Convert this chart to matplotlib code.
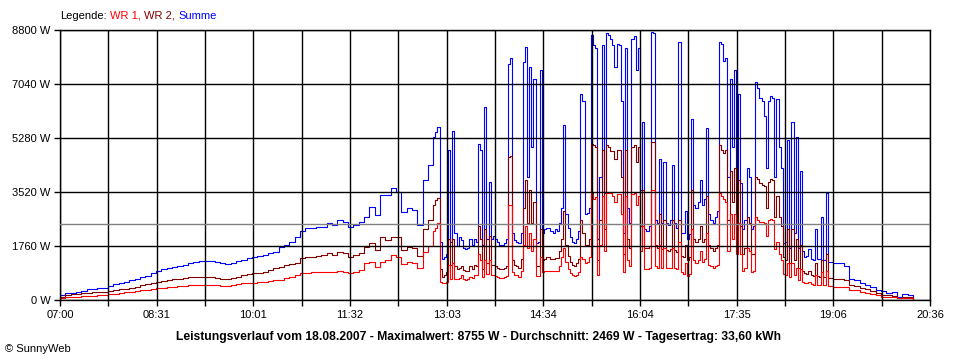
import numpy as np
import matplotlib
matplotlib.use('Agg')
import matplotlib.pyplot as plt

plt.rcParams['font.family'] = ['Liberation Sans', 'DejaVu Sans']
plt.rcParams['font.size'] = 8

# %% data (W), time in minutes after 07:00

# morning, every 5 min from 07:00 to 12:50
t_morning = np.arange(0, 351, 5)
summe_morning = [163, 217, 239, 272, 293, 348, 370, 380, 391, 456,
                 521, 565, 597, 652, 695, 739, 793, 869, 934, 1000,
                 1054, 1086, 1119, 1152, 1195, 1228, 1260, 1282, 1271, 1228,
                 1195, 1184, 1217, 1260, 1304, 1358, 1412, 1430, 1466, 1521,
                 1575, 1738, 1792, 1900, 2064, 2260, 2336, 2336, 2390, 2390,
                 2498, 2444, 2607, 2553, 2390, 2444, 2553, 2716, 3040, 2770,
                 3422, 3422, 3640, 3530, 2878, 2988, 2933, 2450, 3900, 4400,
                 5300]
wr2_morning = [108, 163, 185, 206, 217, 239, 250, 260, 272, 304,
               326, 348, 370, 391, 424, 478, 510, 554, 597, 630,
               652, 674, 695, 717, 739, 750, 760, 760, 739, 706,
               695, 695, 728, 760, 815, 836, 869, 890, 923, 978,
               1032, 1086, 1140, 1173, 1195, 1358, 1412, 1412, 1440, 1466,
               1521, 1466, 1575, 1521, 1412, 1466, 1521, 1738, 1847, 1630,
               2064, 1955, 2064, 2064, 1630, 1738, 1694, 1420, 2300, 2600,
               3100]
wr1_morning = [54, 87, 108, 108, 120, 130, 141, 152, 163, 185,
               206, 228, 250, 272, 293, 315, 337, 358, 380, 402,
               424, 435, 456, 467, 478, 489, 500, 500, 489, 478,
               467, 467, 478, 510, 543, 543, 570, 580, 600, 620,
               652, 652, 706, 760, 815, 869, 887, 900, 910, 923,
               923, 923, 935, 910, 890, 923, 978, 1195, 1250, 1086,
               1250, 1304, 1466, 1412, 1160, 1250, 1200, 1030, 1550, 1750,
               2250]

# afternoon clouds, every 2 min from 12:52 to 19:00
t_noon = np.arange(352, 721, 2)
summe_noon = [5490, 5650, 1900, 1350, 1400, 1500, 4900, 1900, 5500, 2200,
              1750, 2050, 1950, 1700, 1650, 1700, 2000, 1800, 2000, 1900,
              5100, 4900, 1800, 6300, 2000, 3850, 2000, 2100, 2000, 1900,
              1800, 1800, 1850, 2000, 7700, 7900, 2200, 1950, 1900, 1850,
              2200, 7750, 8250, 4000, 7600, 5000, 7200, 1850, 1900, 7500,
              2200, 2300, 2350, 2350, 2250, 2200, 2300, 2250, 2500, 3000,
              5700, 2800, 2350, 2050, 1900, 1850, 2000, 2250, 6700, 6500,
              2800, 2850, 3000, 8650, 8300, 8200, 2000, 4000, 8300, 3500,
              8700, 8650, 8500, 8300, 7600, 8350, 8300, 6500, 2200, 8200,
              3000, 2500, 8500, 8600, 7500, 8200, 3600, 5800, 2300, 2250,
              2400, 8750, 8700, 2600, 2500, 4600, 2500, 4500, 2500, 2450,
              2600, 4400, 2500, 2350, 8400, 2200, 2200, 2900, 2000, 2150,
              5900, 3100, 3000, 3200, 3900, 3100, 3300, 5600, 2800, 2600,
              2500, 2700, 2900, 8400, 8350, 7800, 7900, 4000, 7200, 5000,
              7500, 3500, 6700, 3800, 2300, 2600, 4300, 4000, 2300, 2400,
              7100, 6900, 6600, 6500, 6000, 4300, 6500, 6650, 6600, 4000,
              6550, 5000, 4300, 1850, 1900, 5200, 1700, 5800, 2200, 5300,
              1700, 4200, 1600, 1400, 1450, 1650, 1350, 1300, 2300, 1350,
              1350, 2700, 1300, 3500, 1250]
wr2_noon = [3250, 3330, 1000, 760, 820, 900, 2000, 1150, 2000, 1100,
            1000, 1050, 1100, 980, 930, 950, 1100, 1000, 1150, 1100,
            2400, 2000, 1000, 2300, 1200, 2100, 1150, 1150, 1100, 1050,
            1000, 1000, 1050, 1100, 4650, 4700, 1300, 1150, 1100, 1050,
            1350, 3000, 3900, 2500, 3600, 2500, 3200, 1100, 1100, 2300,
            1300, 1350, 1400, 1400, 1350, 1350, 1380, 1360, 1600, 2000,
            2900, 1800, 1450, 1250, 1150, 1100, 1200, 1350, 2600, 2200,
            1800, 1800, 2000, 5100, 5050, 5000, 1300, 2600, 4900, 2300,
            5050, 5000, 4850, 4850, 4600, 4900, 4900, 4000, 1500, 4900,
            2000, 1700, 5000, 5050, 4500, 5000, 2400, 3600, 1700, 1700,
            1750, 5150, 5150, 1800, 1700, 2800, 1650, 2600, 1620, 1600,
            1650, 2600, 1620, 1580, 2600, 1450, 1400, 1800, 1300, 1400,
            3600, 2000, 1900, 2000, 2400, 1900, 2000, 3400, 1800, 1700,
            1600, 1700, 1800, 5050, 4900, 4800, 4900, 2600, 4200, 3200,
            4300, 2300, 3900, 2400, 1500, 1700, 2700, 2500, 1500, 1500,
            4000, 3950, 3800, 3750, 3700, 3000, 3850, 3950, 3900, 2700,
            3400, 2700, 2400, 1400, 1300, 2300, 1200, 2300, 1300, 2000,
            1050, 1800, 950, 880, 850, 950, 820, 780, 1200, 780,
            760, 1300, 750, 1500, 720]
wr1_noon = [2350, 2500, 600, 540, 560, 600, 1150, 700, 1200, 700,
            700, 720, 800, 700, 650, 680, 760, 720, 800, 800,
            1500, 1300, 750, 1300, 850, 1300, 800, 820, 780, 760,
            720, 720, 740, 780, 3100, 3100, 900, 820, 800, 760,
            950, 1800, 2400, 1700, 2200, 1600, 2000, 780, 780, 1400,
            900, 950, 950, 950, 930, 930, 950, 940, 1100, 1400,
            1700, 1250, 1000, 880, 820, 780, 820, 920, 1400, 1350,
            1200, 1250, 1400, 3500, 3300, 3350, 800, 1800, 3400, 1600,
            3500, 3480, 3480, 3400, 3200, 3450, 3450, 2800, 900, 3400,
            1300, 1100, 3450, 3500, 3100, 3400, 1600, 2400, 1000, 1000,
            1050, 3600, 3600, 1100, 1050, 1800, 1030, 1700, 1030, 1030,
            1050, 1700, 1030, 1000, 1900, 900, 850, 1200, 780, 850,
            2300, 1300, 1200, 1300, 1600, 1250, 1350, 2200, 1150, 1100,
            1050, 1100, 1150, 3500, 3400, 3300, 3200, 1600, 2800, 2000,
            2800, 1500, 2500, 1500, 950, 1050, 1700, 1600, 900, 950,
            2700, 2600, 2550, 2550, 2500, 2100, 2600, 2650, 2600, 1650,
            1900, 1500, 1300, 850, 800, 1200, 750, 1200, 800, 1050,
            650, 1000, 600, 560, 560, 600, 520, 500, 800, 490,
            480, 900, 480, 950, 450]

# evening, every 5 min from 19:05 to 20:20
t_evening = np.arange(725, 801, 5)
summe_evening = [1220, 1200, 1100, 700, 650, 560, 500, 420, 330, 280,
                 220, 250, 110, 200, 150, 20]
wr2_evening = [700, 700, 660, 500, 470, 400, 360, 300, 230, 170,
               150, 140, 80, 110, 90, 10]
wr1_evening = [430, 430, 410, 330, 320, 260, 220, 180, 150, 110,
               90, 100, 60, 70, 50, 10]

durchschnitt = 2469

y_ticks = [0, 1760, 3520, 5280, 7040, 8800]
x_labels = ['07:00', '08:31', '10:01', '11:32', '13:03',
            '14:34', '16:04', '17:35', '19:06', '20:36']

titel = ('Leistungsverlauf vom 18.08.2007 - Maximalwert: 8755 W - '
         'Durchschnitt: 2469 W - Tagesertrag: 33,60 kWh')

# %% plot

t = np.concatenate([t_morning, t_noon, t_evening])
summe = np.concatenate([summe_morning, summe_noon, summe_evening])
wr2 = np.concatenate([wr2_morning, wr2_noon, wr2_evening])
wr1 = np.concatenate([wr1_morning, wr1_noon, wr1_evening])

fig = plt.figure(figsize=(9.6, 3.6), dpi=100, facecolor='white')
ax = fig.add_axes([60/960, 60/360, 870/960, 270/360])

ax.plot(t, summe, color='#0000ff', lw=0.8, drawstyle='steps-post', zorder=2.0)
ax.plot(t, wr2, color='#800000', lw=0.8, drawstyle='steps-post', zorder=2.1)
ax.plot(t, wr1, color='#ff0000', lw=0.8, drawstyle='steps-post', zorder=2.2)
ax.axhline(durchschnitt, color='#808080', lw=1.0, zorder=2.6)

ax.set_xlim(0, 816)
ax.set_ylim(0, 8800)
xt = np.linspace(0, 816, 19)
xl = []
for i in range(19):
    xl.append(x_labels[i//2] if i % 2 == 0 else '')
ax.set_xticks(xt, xl)
ax.set_yticks(y_ticks, ['%d W' % v for v in y_ticks])

ax.set_axisbelow(False)
ax.grid(True, color='black', lw=1)
for s in ax.spines.values():
    s.set_color('black')
    s.set_linewidth(1)
ax.tick_params(axis='x', direction='out', length=4, width=1, pad=3)
ax.tick_params(axis='y', direction='out', length=4, width=1, pad=3)

# legend text on top
fig.canvas.draw()
renderer = fig.canvas.get_renderer()
x = 60/960
y = 1 - 16/360
for txt, col in [('Legende:', 'black'), ('WR 1,', '#ff0000'),
                 ('WR 2,', '#800000'), ('Summe', '#0000ff')]:
    tx = fig.text(x, y, txt, color=col, va='center', ha='left')
    bb = tx.get_window_extent(renderer)
    x = (bb.x1 + 3.5) / 960

fig.text(479/960, 1 - 337/360, titel, ha='center', va='center',
         fontweight='bold', fontsize=8.7)
fig.text(5/960, 1 - 349/360, '\u00a9 SunnyWeb', ha='left', va='center')

fig.savefig('out.png', dpi=100, facecolor='white')
